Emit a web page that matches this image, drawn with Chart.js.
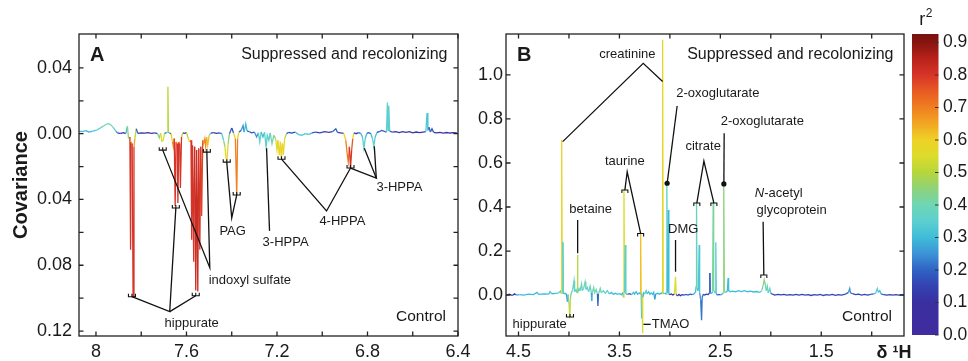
<!DOCTYPE html>
<html>
<head>
<meta charset="utf-8">
<script src="https://cdn.jsdelivr.net/npm/chart.js@4.4.1/dist/chart.umd.min.js"></script>
<style>
html, body { margin: 0; padding: 0; background: #fff; }
#wrap { position: relative; width: 968px; height: 361px; }
#wrap canvas { position: absolute; left: 0; top: 0; }
</style>
</head>
<body>
<div id="wrap">
  <canvas id="cA" width="968" height="361"></canvas>
  <canvas id="cB" width="968" height="361"></canvas>
  <canvas id="cBar" width="968" height="361"></canvas>
</div>
<script>
// ---- Panel A: aromatic region (ppm, covariance, r2) ----
const aPpm = [
  8.075, 8.060, 8.045, 8.030, 8.015, 7.996, 7.980, 7.965, 7.950, 7.938,
  7.925, 7.912, 7.903, 7.890, 7.878, 7.868, 7.861, 7.856, 7.850, 7.847,
  7.845, 7.840, 7.836, 7.832, 7.828, 7.822, 7.815, 7.800, 7.785, 7.770,
  7.755, 7.740, 7.728, 7.720, 7.714, 7.709, 7.703, 7.697, 7.690, 7.684,
  7.682, 7.680, 7.674, 7.668, 7.662, 7.658, 7.654, 7.650, 7.646, 7.641,
  7.638, 7.634, 7.630, 7.627, 7.622, 7.616, 7.608, 7.600, 7.592, 7.586,
  7.580, 7.577, 7.573, 7.568, 7.564, 7.559, 7.555, 7.550, 7.546, 7.541,
  7.537, 7.533, 7.528, 7.524, 7.519, 7.515, 7.511, 7.506, 7.500, 7.492,
  7.480, 7.468, 7.456, 7.444, 7.436, 7.430, 7.425, 7.421, 7.416, 7.410,
  7.400, 7.392, 7.384, 7.378, 7.374, 7.368, 7.358, 7.350, 7.345, 7.338,
  7.332, 7.322, 7.312, 7.300, 7.290, 7.282, 7.276, 7.270, 7.262, 7.255,
  7.248, 7.243, 7.236, 7.230, 7.222, 7.214, 7.206, 7.200, 7.196, 7.190,
  7.185, 7.181, 7.176, 7.172, 7.166, 7.158, 7.148, 7.135, 7.120, 7.105,
  7.090, 7.075, 7.060, 7.045, 7.030, 7.010, 6.990, 6.970, 6.955, 6.940,
  6.933, 6.920, 6.905, 6.896, 6.890, 6.885, 6.880, 6.875, 6.870, 6.865,
  6.860, 6.850, 6.840, 6.830, 6.822, 6.816, 6.810, 6.803, 6.795, 6.785,
  6.778, 6.772, 6.766, 6.758, 6.748, 6.738, 6.728, 6.716, 6.712, 6.709,
  6.706, 6.702, 6.690, 6.675, 6.660, 6.645, 6.630, 6.615, 6.600, 6.585,
  6.570, 6.555, 6.542, 6.537, 6.533, 6.528, 6.522, 6.515, 6.508, 6.495,
  6.480, 6.465, 6.450, 6.435, 6.420, 6.405
];
const aCov = [
  0.0015, 0.0012, 0.0018, 0.0010, 0.0016, 0.0022, 0.0035, 0.0048, 0.0060, 0.0058,
  0.0040, 0.0015, 0.0003, 0.0002, 0.0006, 0.0000, 0.0045, -0.0030, -0.0020, -0.0706,
  -0.0050, -0.0060, -0.0991, -0.0080, -0.0030, 0.0030, 0.0002, 0.0005, 0.0003, 0.0006,
  0.0002, 0.0005, 0.0000, -0.0025, 0.0003, -0.0045, -0.0040, 0.0002, 0.0005, 0.0010,
  0.0285, 0.0010, 0.0002, 0.0000, -0.0050, -0.0080, -0.0030, -0.0440, -0.0050, -0.0060,
  -0.0421, -0.0050, -0.0060, -0.0330, -0.0020, 0.0005, 0.0002, 0.0006, -0.0030, -0.0050,
  -0.0040, -0.0645, -0.0070, -0.0779, -0.0080, -0.0954, -0.0100, -0.0960, -0.0090, -0.0706,
  -0.0080, -0.0500, -0.0040, -0.0060, -0.0030, -0.0080, -0.0020, -0.0070, -0.0010, 0.0003,
  0.0006, 0.0002, 0.0005, 0.0000, -0.0040, -0.0080, -0.0150, -0.0160, -0.0060, 0.0000,
  0.0035, 0.0005, -0.0030, -0.0373, -0.0030, 0.0010, 0.0020, 0.0050, 0.0010, 0.0060,
  0.0015, 0.0012, 0.0005, 0.0010, -0.0020, 0.0005, -0.0050, 0.0010, -0.0020, 0.0008,
  -0.0082, -0.0010, -0.0040, 0.0005, -0.0060, -0.0010, -0.0030, -0.0100, -0.0040, -0.0130,
  -0.0050, -0.0148, -0.0060, -0.0130, -0.0030, 0.0000, 0.0008, 0.0003, 0.0010, -0.0005,
  -0.0010, 0.0000, -0.0005, 0.0005, 0.0010, 0.0005, 0.0012, 0.0008, 0.0012, 0.0030,
  0.0008, 0.0005, 0.0002, -0.0040, -0.0120, -0.0170, -0.0080, -0.0209, -0.0100, -0.0030,
  0.0005, 0.0000, 0.0006, 0.0002, -0.0020, -0.0088, -0.0030, 0.0002, 0.0006, 0.0000,
  -0.0030, -0.0076, -0.0020, 0.0008, 0.0012, 0.0020, 0.0015, 0.0010, 0.0190, 0.0020,
  0.0170, 0.0015, 0.0010, 0.0012, 0.0006, 0.0012, 0.0008, 0.0012, 0.0005, 0.0010,
  0.0006, 0.0010, 0.0012, 0.0126, 0.0020, 0.0040, 0.0010, 0.0030, 0.0008, 0.0005,
  0.0008, 0.0003, 0.0007, 0.0004, 0.0006, 0.0004
];
const aR2 = [
  0.30, 0.30, 0.28, 0.28, 0.30, 0.33, 0.35, 0.38, 0.40, 0.40,
  0.36, 0.25, 0.15, 0.12, 0.12, 0.12, 0.30, 0.45, 0.55, 0.80,
  0.65, 0.65, 0.80, 0.65, 0.50, 0.20, 0.12, 0.12, 0.12, 0.12,
  0.12, 0.12, 0.15, 0.45, 0.20, 0.55, 0.55, 0.20, 0.15, 0.30,
  0.50, 0.30, 0.15, 0.15, 0.60, 0.68, 0.60, 0.80, 0.70, 0.70,
  0.80, 0.70, 0.70, 0.80, 0.50, 0.12, 0.12, 0.12, 0.50, 0.60,
  0.65, 0.80, 0.70, 0.80, 0.72, 0.82, 0.72, 0.82, 0.72, 0.80,
  0.70, 0.78, 0.65, 0.68, 0.60, 0.68, 0.55, 0.62, 0.40, 0.15,
  0.12, 0.12, 0.12, 0.20, 0.35, 0.45, 0.55, 0.58, 0.45, 0.20,
  0.15, 0.15, 0.55, 0.70, 0.60, 0.20, 0.18, 0.25, 0.20, 0.30,
  0.20, 0.15, 0.18, 0.15, 0.25, 0.20, 0.35, 0.20, 0.30, 0.20,
  0.35, 0.25, 0.35, 0.20, 0.40, 0.30, 0.45, 0.55, 0.55, 0.58,
  0.58, 0.60, 0.58, 0.58, 0.50, 0.20, 0.15, 0.15, 0.15, 0.30,
  0.33, 0.32, 0.30, 0.20, 0.15, 0.15, 0.15, 0.15, 0.15, 0.20,
  0.15, 0.15, 0.15, 0.60, 0.70, 0.72, 0.70, 0.80, 0.75, 0.55,
  0.15, 0.15, 0.15, 0.20, 0.30, 0.35, 0.30, 0.20, 0.15, 0.20,
  0.30, 0.35, 0.30, 0.15, 0.15, 0.20, 0.15, 0.20, 0.35, 0.30,
  0.35, 0.20, 0.12, 0.12, 0.12, 0.12, 0.12, 0.12, 0.12, 0.12,
  0.12, 0.12, 0.15, 0.33, 0.25, 0.20, 0.15, 0.18, 0.12, 0.12,
  0.12, 0.12, 0.12, 0.12, 0.12, 0.12
];
const aXTicks = [8, 7.6, 7.2, 6.8, 6.4];
const aXMinor = [7.8, 7.4, 7.0, 6.6];
const aYTicks = [0.04, 0, -0.04, -0.08, -0.12];
const aYMinor = [0.02, -0.02, -0.06, -0.10];

// ---- Panel B: aliphatic region (ppm, covariance, r2) ----
const bPpm = [
  4.624, 4.590, 4.560, 4.540, 4.520, 4.490, 4.450, 4.400, 4.350, 4.317,
  4.300, 4.250, 4.200, 4.188, 4.170, 4.130, 4.100, 4.085, 4.078, 4.072,
  4.066, 4.060, 4.055, 4.040, 4.025, 4.015, 4.008, 3.998, 3.992, 3.986,
  3.978, 3.965, 3.950, 3.944, 3.930, 3.920, 3.916, 3.911, 3.900, 3.890,
  3.875, 3.868, 3.855, 3.840, 3.832, 3.820, 3.805, 3.790, 3.778, 3.775,
  3.770, 3.755, 3.745, 3.730, 3.718, 3.713, 3.708, 3.690, 3.680, 3.660,
  3.640, 3.620, 3.600, 3.580, 3.560, 3.540, 3.520, 3.500, 3.480, 3.466,
  3.460, 3.455, 3.449, 3.442, 3.436, 3.420, 3.400, 3.380, 3.360, 3.350,
  3.335, 3.320, 3.305, 3.296, 3.290, 3.285, 3.280, 3.276, 3.272, 3.267,
  3.260, 3.250, 3.235, 3.225, 3.210, 3.198, 3.185, 3.170, 3.160, 3.150,
  3.140, 3.120, 3.100, 3.085, 3.077, 3.072, 3.066, 3.055, 3.045, 3.035,
  3.030, 3.024, 3.016, 3.010, 3.000, 2.985, 2.970, 2.955, 2.944, 2.938,
  2.925, 2.910, 2.895, 2.880, 2.860, 2.840, 2.820, 2.800, 2.780, 2.760,
  2.745, 2.740, 2.736, 2.731, 2.718, 2.710, 2.705, 2.695, 2.686, 2.680,
  2.670, 2.655, 2.640, 2.620, 2.608, 2.604, 2.600, 2.585, 2.577, 2.571,
  2.566, 2.550, 2.545, 2.540, 2.530, 2.515, 2.500, 2.485, 2.472, 2.466,
  2.460, 2.445, 2.430, 2.423, 2.418, 2.400, 2.380, 2.350, 2.320, 2.290,
  2.260, 2.230, 2.200, 2.170, 2.140, 2.110, 2.090, 2.075, 2.065, 2.055,
  2.045, 2.035, 2.025, 2.010, 2.000, 1.985, 1.960, 1.930, 1.900, 1.870,
  1.840, 1.810, 1.780, 1.750, 1.720, 1.690, 1.660, 1.630, 1.600, 1.570,
  1.540, 1.510, 1.480, 1.450, 1.420, 1.390, 1.360, 1.330, 1.300, 1.260,
  1.230, 1.218, 1.210, 1.190, 1.160, 1.130, 1.100, 1.070, 1.040, 1.010,
  0.980, 0.960, 0.945, 0.935, 0.920, 0.905, 0.880, 0.850, 0.820, 0.790,
  0.760, 0.730, 0.700, 0.680
];
const bCov = [
  0.000, 0.004, -0.002, 0.006, 0.000, 0.002, 0.000, 0.004, 0.002, 0.012,
  0.003, 0.005, 0.004, 0.015, 0.006, 0.008, 0.010, 0.018, 0.008, 0.705,
  0.010, 0.240, 0.006, 0.008, 0.004, -0.030, 0.002, -0.045, -0.105, -0.020,
  0.010, 0.020, 0.065, 0.015, 0.025, 0.010, 0.182, 0.015, 0.030, 0.020,
  0.050, 0.020, 0.030, 0.060, 0.025, 0.035, 0.015, 0.040, 0.010, -0.027,
  0.010, 0.035, 0.010, 0.025, 0.005, -0.050, 0.005, 0.030, 0.010, 0.020,
  0.008, 0.020, 0.005, 0.012, 0.004, 0.008, 0.003, 0.006, 0.002, 0.010,
  -0.010, 0.477, 0.010, 0.227, 0.005, 0.003, 0.006, 0.002, 0.012, 0.004,
  0.015, 0.004, 0.010, 0.004, 0.282, 0.010, -0.105, 0.005, -0.173, -0.010,
  0.010, 0.005, 0.020, 0.005, 0.015, 0.003, 0.010, 0.003, 0.012, -0.020,
  0.005, 0.008, 0.004, 0.010, 0.005, 1.160, 0.010, 0.006, 0.008, 0.004,
  0.505, 0.010, 0.386, 0.004, 0.002, 0.005, 0.000, 0.004, 0.083, 0.003,
  -0.004, 0.003, -0.003, 0.002, 0.000, 0.003, 0.000, 0.004, 0.002, 0.005,
  0.015, 0.040, 0.418, 0.030, 0.020, 0.227, 0.010, -0.020, -0.114, -0.010,
  0.003, 0.000, 0.004, 0.002, 0.010, 0.100, 0.010, 0.008, 0.015, 0.418,
  0.020, 0.010, 0.240, 0.005, 0.000, 0.003, 0.001, 0.003, 0.010, 0.505,
  0.015, 0.012, 0.020, 0.077, 0.020, 0.015, 0.018, 0.015, 0.020, 0.016,
  0.020, 0.015, 0.018, 0.014, 0.016, 0.012, 0.020, 0.045, 0.070, 0.050,
  0.020, 0.040, 0.010, 0.030, 0.008, 0.004, 0.000, 0.003, 0.001, 0.003,
  0.000, 0.002, 0.000, 0.003, 0.000, 0.003, 0.000, 0.002, -0.002, 0.002,
  0.000, 0.003, -0.002, 0.002, 0.000, 0.003, -0.001, 0.002, 0.000, 0.004,
  0.012, 0.030, 0.010, 0.006, 0.002, 0.004, 0.000, 0.003, 0.000, 0.003,
  0.005, 0.010, 0.030, 0.012, 0.020, 0.004, 0.002, 0.000, 0.002, 0.000,
  0.002, 0.000, 0.002, 0.001
];
const bR2 = [
  0.12, 0.12, 0.12, 0.15, 0.15, 0.28, 0.30, 0.30, 0.30, 0.30,
  0.30, 0.30, 0.30, 0.32, 0.30, 0.30, 0.32, 0.35, 0.35, 0.58,
  0.40, 0.35, 0.30, 0.30, 0.25, 0.15, 0.30, 0.45, 0.52, 0.45,
  0.35, 0.35, 0.38, 0.30, 0.35, 0.35, 0.50, 0.35, 0.35, 0.30,
  0.38, 0.35, 0.35, 0.40, 0.35, 0.35, 0.30, 0.38, 0.25, 0.12,
  0.30, 0.40, 0.30, 0.40, 0.20, 0.12, 0.20, 0.40, 0.30, 0.35,
  0.30, 0.35, 0.30, 0.30, 0.25, 0.30, 0.25, 0.30, 0.25, 0.30,
  0.15, 0.56, 0.35, 0.35, 0.30, 0.20, 0.20, 0.20, 0.30, 0.20,
  0.30, 0.20, 0.30, 0.30, 0.62, 0.35, 0.15, 0.30, 0.55, 0.30,
  0.30, 0.30, 0.35, 0.30, 0.30, 0.25, 0.30, 0.25, 0.30, 0.12,
  0.25, 0.30, 0.30, 0.30, 0.30, 0.57, 0.35, 0.30, 0.30, 0.30,
  0.36, 0.30, 0.30, 0.20, 0.12, 0.12, 0.12, 0.12, 0.55, 0.15,
  0.12, 0.12, 0.12, 0.12, 0.15, 0.20, 0.15, 0.20, 0.20, 0.25,
  0.30, 0.30, 0.38, 0.30, 0.30, 0.33, 0.25, 0.20, 0.22, 0.20,
  0.15, 0.15, 0.15, 0.15, 0.15, 0.18, 0.20, 0.25, 0.30, 0.42,
  0.35, 0.30, 0.35, 0.25, 0.20, 0.20, 0.20, 0.25, 0.30, 0.45,
  0.35, 0.30, 0.30, 0.30, 0.30, 0.30, 0.30, 0.30, 0.30, 0.30,
  0.30, 0.30, 0.30, 0.30, 0.30, 0.30, 0.35, 0.42, 0.45, 0.40,
  0.35, 0.38, 0.30, 0.35, 0.20, 0.15, 0.15, 0.15, 0.15, 0.15,
  0.15, 0.15, 0.15, 0.15, 0.15, 0.15, 0.15, 0.15, 0.15, 0.15,
  0.15, 0.15, 0.15, 0.15, 0.15, 0.15, 0.15, 0.15, 0.15, 0.15,
  0.20, 0.25, 0.20, 0.15, 0.15, 0.15, 0.15, 0.15, 0.15, 0.15,
  0.20, 0.30, 0.35, 0.30, 0.30, 0.20, 0.15, 0.15, 0.15, 0.15,
  0.15, 0.15, 0.15, 0.15
];
const bXTicks = [4.5, 3.5, 2.5, 1.5];
const bXMinor = [4.0, 3.0, 2.0, 1.0];
const bYTicks = [0, 0.2, 0.4, 0.6, 0.8, 1.0];

// ---- colour bar ticks ----
const barTicks = [0, 0.1, 0.2, 0.3, 0.4, 0.5, 0.6, 0.7, 0.8, 0.9];

const FONT = '"Liberation Sans", Arial, Helvetica, sans-serif';
const INK = '#1a1a1a';

// jet-like colour map used for r2
const cmapStops = [
  [0.00, [64, 44, 158]], [0.10, [58, 47, 160]], [0.15, [52, 66, 178]],
  [0.20, [47, 98, 196]], [0.25, [60, 147, 214]], [0.30, [63, 188, 216]],
  [0.35, [92, 207, 207]], [0.40, [111, 214, 180]], [0.45, [142, 210, 122]],
  [0.50, [182, 214, 60]], [0.55, [220, 220, 44]], [0.60, [238, 210, 38]],
  [0.65, [242, 166, 34]], [0.70, [239, 127, 32]], [0.75, [232, 90, 34]],
  [0.80, [214, 52, 40]], [0.85, [185, 34, 26]], [0.90, [135, 20, 16]],
  [0.95, [105, 14, 14]]
];
function cmap(v) {
  if (v <= cmapStops[0][0]) return 'rgb(' + cmapStops[0][1].join(',') + ')';
  for (let i = 1; i < cmapStops.length; i++) {
    const [v1, c1] = cmapStops[i];
    if (v <= v1) {
      const [v0, c0] = cmapStops[i - 1];
      const t = (v - v0) / (v1 - v0);
      const c = c0.map((a, k) => Math.round(a + (c1[k] - a) * t));
      return 'rgb(' + c.join(',') + ')';
    }
  }
  return 'rgb(' + cmapStops[cmapStops.length - 1][1].join(',') + ')';
}

function toPts(xs, ys) { return xs.map((x, i) => ({ x: x, y: ys[i] })); }

// helpers for drawing in data coordinates
function P(chart, x, y) {
  return [chart.scales.x.getPixelForValue(x), chart.scales.y.getPixelForValue(y)];
}
function poly(chart, pts) {
  const ctx = chart.ctx;
  ctx.beginPath();
  pts.forEach((p, i) => {
    const [px, py] = P(chart, p[0], p[1]);
    if (i === 0) ctx.moveTo(px, py); else ctx.lineTo(px, py);
  });
  ctx.stroke();
}
function label(chart, str, x, y, size, align, style) {
  const ctx = chart.ctx;
  const [px, py] = P(chart, x, y);
  ctx.font = (style || '') + ' ' + size + 'px ' + FONT;
  ctx.textAlign = align || 'center';
  ctx.textBaseline = 'middle';
  ctx.fillStyle = INK;
  ctx.fillText(str, px, py);
}
function bracketDown(chart, x, y) {   // little comb under a negative peak
  const ctx = chart.ctx;
  const [px, py] = P(chart, x, y);
  ctx.beginPath();
  ctx.moveTo(px - 3.5, py - 3); ctx.lineTo(px - 3.5, py); ctx.lineTo(px + 3.5, py); ctx.lineTo(px + 3.5, py - 3);
  ctx.moveTo(px, py); ctx.lineTo(px, py - 3);
  ctx.stroke();
}
function bracketUp(chart, x, y) {     // little cap over a positive peak
  const ctx = chart.ctx;
  const [px, py] = P(chart, x, y);
  ctx.beginPath();
  ctx.moveTo(px - 3, py + 3); ctx.lineTo(px - 3, py); ctx.lineTo(px + 3, py); ctx.lineTo(px + 3, py + 3);
  ctx.stroke();
}
function dot(chart, x, y) {
  const ctx = chart.ctx;
  const [px, py] = P(chart, x, y);
  ctx.beginPath(); ctx.arc(px, py, 2.6, 0, Math.PI * 2); ctx.fill();
}

// frame + inward ticks on all four sides
function frameAndTicks(chart, xt, yt) {
  const ctx = chart.ctx, a = chart.chartArea, L = 4.5;
  ctx.save();
  ctx.strokeStyle = '#222';
  ctx.lineWidth = 1.3;
  ctx.strokeRect(a.left, a.top, a.right - a.left, a.bottom - a.top);
  ctx.beginPath();
  xt.forEach(v => {
    const x = chart.scales.x.getPixelForValue(v);
    ctx.moveTo(x, a.bottom); ctx.lineTo(x, a.bottom - L);
    ctx.moveTo(x, a.top); ctx.lineTo(x, a.top + L);
  });
  yt.forEach(v => {
    const y = chart.scales.y.getPixelForValue(v);
    ctx.moveTo(a.left, y); ctx.lineTo(a.left + L, y);
    ctx.moveTo(a.right, y); ctx.lineTo(a.right - L, y);
  });
  ctx.stroke();
  ctx.restore();
}

function panelTexts(chart, letter) {
  const ctx = chart.ctx, a = chart.chartArea;
  ctx.save();
  ctx.fillStyle = INK;
  ctx.textBaseline = 'middle';
  ctx.font = 'bold 20px ' + FONT;
  ctx.textAlign = 'left';
  ctx.fillText(letter, a.left + 11, a.top + 21);
  ctx.font = '16px ' + FONT;
  ctx.textAlign = 'right';
  ctx.fillText('Suppressed and recolonizing', a.right - 10.5, a.top + 21);
  ctx.font = '15.5px ' + FONT;
  ctx.fillText('Control', a.right - 12, a.bottom - 19);
  ctx.restore();
}

function spectrumDataset(xs, ys, r2) {
  return {
    data: toPts(xs, ys),
    borderColor: cmap(0.2),
    borderWidth: 1.3,
    pointRadius: 0,
    tension: 0,
    segment: {
      borderColor: c => cmap(Math.max(r2[c.p0DataIndex], r2[c.p1DataIndex]))
    }
  };
}

function tickFont() { return { family: FONT, size: 18 }; }
const noGrid = { display: false, drawTicks: false };

// ================= Panel A =================
const plugA = {
  id: 'plugA',
  afterDraw(chart) {
    const ctx = chart.ctx, a = chart.chartArea;
    frameAndTicks(chart, aXTicks.concat(aXMinor), aYTicks.concat(aYMinor));
    ctx.save();
    ctx.strokeStyle = '#111';
    ctx.fillStyle = '#111';
    ctx.lineWidth = 1.3;
    // hippurate
    poly(chart, [[7.841, -0.0991], [7.674, -0.1082], [7.647, -0.0452]]);
    poly(chart, [[7.674, -0.1082], [7.559, -0.0985]]);
    // indoxyl sulfate
    poly(chart, [[7.705, -0.0100], [7.497, -0.0815], [7.510, -0.0112]]);
    // PAG
    poly(chart, [[7.422, -0.0173], [7.400, -0.0512], [7.378, -0.0373]]);
    // 3-HPPA (7.25)
    poly(chart, [[7.246, -0.0088], [7.233, -0.0591]]);
    // 4-HPPA
    poly(chart, [[7.180, -0.0155], [6.981, -0.0470], [6.875, -0.0209]]);
    // 3-HPPA (6.8)
    poly(chart, [[6.875, -0.0209], [6.761, -0.0270], [6.814, -0.0088]]);
    poly(chart, [[6.761, -0.0270], [6.770, -0.0076]]);
    ctx.lineWidth = 1.1;
    [[7.841, -0.0991], [7.647, -0.0452], [7.559, -0.0985], [7.705, -0.0100], [7.510, -0.0112],
     [7.422, -0.0173], [7.378, -0.0373], [7.180, -0.0155], [6.875, -0.0209]]
      .forEach(p => bracketDown(chart, p[0], p[1]));
    label(chart, 'hippurate', 7.577, -0.1155, 13);
    label(chart, 'indoxyl sulfate', 7.502, -0.0894, 13, 'left');
    label(chart, 'PAG', 7.396, -0.0597, 13);
    label(chart, '3-HPPA', 7.162, -0.0664, 13);
    label(chart, '4-HPPA', 6.911, -0.0536, 13);
    label(chart, '3-HPPA', 6.659, -0.0324, 13);
    ctx.restore();
    panelTexts(chart, 'A');
    // y title
    ctx.save();
    ctx.translate(a.left - 58, (a.top + a.bottom) / 2);
    ctx.rotate(-Math.PI / 2);
    ctx.font = 'bold 20px ' + FONT;
    ctx.textAlign = 'center';
    ctx.textBaseline = 'middle';
    ctx.fillStyle = INK;
    ctx.fillText('Covariance', 0, 0);
    ctx.restore();
  }
};

new Chart(document.getElementById('cA'), {
  type: 'line',
  data: { datasets: [spectrumDataset(aPpm, aCov, aR2)] },
  options: {
    responsive: false, animation: false, events: [], devicePixelRatio: 1,
    layout: { padding: { left: 0, right: 510, top: 34, bottom: 0 } },
    plugins: { legend: { display: false }, tooltip: { enabled: false } },
    scales: {
      x: {
        type: 'linear', reverse: true, min: 6.4, max: 8.075,
        grid: noGrid, border: { display: false },
        afterBuildTicks: s => { s.ticks = aXTicks.map(v => ({ value: v })); },
        afterFit: s => { s.height = 25; s.paddingLeft = 0; s.paddingRight = 0; },
        ticks: { autoSkip: false, maxRotation: 0, padding: 5, color: INK, font: tickFont(),
                 callback: v => String(Math.round(v * 10) / 10) }
      },
      y: {
        min: -0.123, max: 0.0606,
        grid: noGrid, border: { display: false },
        afterBuildTicks: s => { s.ticks = aYTicks.map(v => ({ value: v })); },
        afterFit: s => { s.width = 79; s.paddingTop = 0; s.paddingBottom = 0; },
        ticks: { padding: 7, color: INK, font: tickFont(),
                 callback: v => Math.abs(v).toFixed(2) }
      }
    }
  },
  plugins: [plugA]
});

// ================= Panel B =================
const plugB = {
  id: 'plugB',
  afterDraw(chart) {
    const ctx = chart.ctx, a = chart.chartArea;
    frameAndTicks(chart, bXTicks.concat(bXMinor), bYTicks);
    ctx.save();
    ctx.strokeStyle = '#111';
    ctx.fillStyle = '#111';
    ctx.lineWidth = 1.3;
    poly(chart, [[4.062, 0.697], [3.264, 1.053], [3.072, 0.970]]);       // creatinine
    poly(chart, [[2.928, 0.859], [3.027, 0.508]]);                       // 2-oxoglutarate
    poly(chart, [[3.446, 0.477], [3.423, 0.560], [3.290, 0.280]]);       // taurine
    poly(chart, [[3.914, 0.341], [3.914, 0.190]]);                       // betaine
    poly(chart, [[2.944, 0.250], [2.944, 0.106]]);                       // DMG
    poly(chart, [[2.733, 0.418], [2.663, 0.609], [2.564, 0.418]]);       // citrate
    poly(chart, [[2.462, 0.735], [2.465, 0.505]]);                       // 2-oxoglutarate
    poly(chart, [[2.076, 0.333], [2.069, 0.091]]);                       // N-acetyl glycoprotein
    poly(chart, [[3.262, -0.133], [3.190, -0.133]]);                     // TMAO dash
    dot(chart, 3.027, 0.508);
    dot(chart, 2.465, 0.505);
    ctx.lineWidth = 1.1;
    [[3.446, 0.477], [3.290, 0.280], [2.733, 0.418], [2.564, 0.418], [2.069, 0.091]]
      .forEach(p => bracketUp(chart, p[0], p[1]));
    bracketDown(chart, 3.990, -0.100);
    label(chart, 'creatinine', 3.421, 1.095, 13);
    label(chart, '2-oxoglutarate', 2.525, 0.914, 13);
    label(chart, 'taurine', 3.446, 0.606, 13);
    label(chart, 'betaine', 3.785, 0.390, 13);
    label(chart, 'DMG', 2.868, 0.299, 13);
    label(chart, 'citrate', 2.670, 0.674, 13);
    label(chart, '2-oxoglutarate', 2.084, 0.788, 13);
    label(chart, 'N', 2.158, 0.462, 13, 'left', 'italic');
    const [nx, ny] = P(chart, 2.158, 0.462);
    ctx.font = 'italic 13px ' + FONT;
    const nw = ctx.measureText('N').width;
    ctx.font = '13px ' + FONT;
    ctx.textAlign = 'left';
    ctx.fillStyle = INK;
    ctx.fillText('-acetyl', nx + nw, ny);
    label(chart, 'glycoprotein', 2.141, 0.386, 13, 'left');
    label(chart, 'hippurate', 4.290, -0.133, 13);
    label(chart, 'TMAO', 3.180, -0.133, 13, 'left');
    ctx.restore();
    panelTexts(chart, 'B');
    // x title
    ctx.save();
    ctx.fillStyle = INK;
    ctx.font = 'bold 18px ' + FONT;
    ctx.textAlign = 'center';
    ctx.textBaseline = 'middle';
    ctx.fillText('\u03b4 \u00b9H', a.right - 10, a.bottom + 17);
    ctx.restore();
  }
};

new Chart(document.getElementById('cB'), {
  type: 'line',
  data: { datasets: [spectrumDataset(bPpm, bCov, bR2)] },
  options: {
    responsive: false, animation: false, events: [], devicePixelRatio: 1,
    layout: { padding: { left: 450, right: 64, top: 34, bottom: 0 } },
    plugins: { legend: { display: false }, tooltip: { enabled: false } },
    scales: {
      x: {
        type: 'linear', reverse: true, min: 0.68, max: 4.624,
        grid: noGrid, border: { display: false },
        afterBuildTicks: s => { s.ticks = bXTicks.map(v => ({ value: v })); },
        afterFit: s => { s.height = 25; s.paddingLeft = 0; s.paddingRight = 0; },
        ticks: { autoSkip: false, maxRotation: 0, padding: 5, color: INK, font: tickFont(),
                 callback: v => v.toFixed(1) }
      },
      y: {
        min: -0.186, max: 1.186,
        grid: noGrid, border: { display: false },
        afterBuildTicks: s => { s.ticks = bYTicks.map(v => ({ value: v })); },
        afterFit: s => { s.width = 56; s.paddingTop = 0; s.paddingBottom = 0; },
        ticks: { padding: 3, color: INK, font: tickFont(),
                 callback: v => v.toFixed(1) }
      }
    }
  },
  plugins: [plugB]
});

// ================= Colour bar =================
const plugBar = {
  id: 'plugBar',
  beforeDraw(chart) {
    const ctx = chart.ctx, a = chart.chartArea, ys = chart.scales.y;
    const g = ctx.createLinearGradient(0, a.bottom, 0, a.top);
    const top = ys.max;
    cmapStops.forEach(s => {
      if (s[0] <= top) g.addColorStop(s[0] / top, 'rgb(' + s[1].join(',') + ')');
    });
    g.addColorStop(1, cmap(top));
    ctx.fillStyle = g;
    ctx.fillRect(a.left, a.top, a.right - a.left, a.bottom - a.top);
  },
  afterDraw(chart) {
    const ctx = chart.ctx, a = chart.chartArea, ys = chart.scales.y;
    ctx.save();
    ctx.strokeStyle = '#333';
    ctx.lineWidth = 1.1;
    ctx.beginPath();
    barTicks.forEach(v => {
      const y = ys.getPixelForValue(v);
      ctx.moveTo(a.right, y); ctx.lineTo(a.right - 3.5, y);
    });
    ctx.stroke();
    ctx.fillStyle = INK;
    ctx.textBaseline = 'alphabetic';
    ctx.textAlign = 'left';
    const cx = (a.left + a.right) / 2;
    ctx.font = '18px ' + FONT;
    ctx.fillText('r', cx - 6, a.top - 9);
    ctx.font = '12px ' + FONT;
    ctx.fillText('2', cx + 0.5, a.top - 17);
    ctx.restore();
  }
};

new Chart(document.getElementById('cBar'), {
  type: 'scatter',
  data: { datasets: [{ data: [] }] },
  options: {
    responsive: false, animation: false, events: [], devicePixelRatio: 1,
    layout: { padding: { left: 912, right: 0, top: 34, bottom: 26 } },
    plugins: { legend: { display: false }, tooltip: { enabled: false } },
    scales: {
      x: { display: false, min: 0, max: 1 },
      y: {
        position: 'right', min: 0, max: 0.926,
        grid: noGrid, border: { display: false },
        afterBuildTicks: s => { s.ticks = barTicks.map(v => ({ value: v })); },
        afterFit: s => { s.width = 29.5; s.paddingTop = 0; s.paddingBottom = 0; },
        ticks: { padding: 4.5, color: INK, font: { family: FONT, size: 17.5 },
                 callback: v => v.toFixed(1) }
      }
    }
  },
  plugins: [plugBar]
});
</script>
</body>
</html>
